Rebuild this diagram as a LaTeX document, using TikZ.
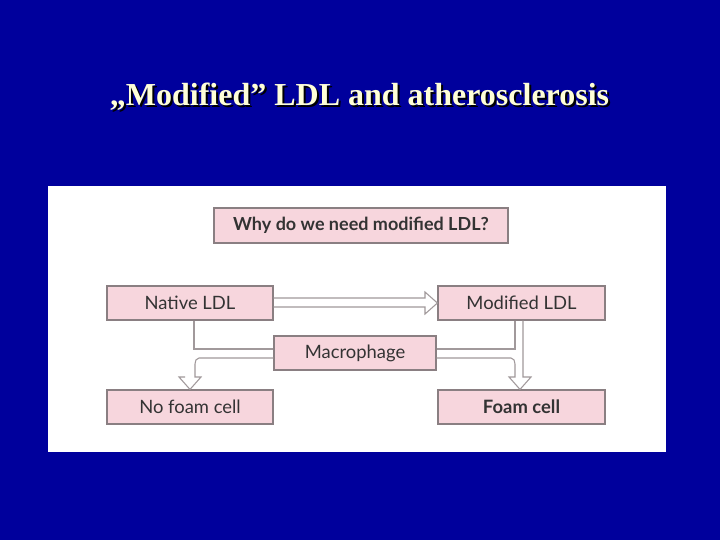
\documentclass[tikz,border=0pt]{standalone}
\usepackage{fontspec}
\setmainfont{Liberation Serif}
\newfontfamily\boxfont{Lato}
\definecolor{bg}{HTML}{00009C}
\definecolor{pinkf}{HTML}{F7D6DD}
\definecolor{edge}{HTML}{8A7F82}
\definecolor{title}{HTML}{FFFFD8}
\tikzset{
  pbox/.style={draw=edge, fill=pinkf, line width=0.9pt, inner sep=0pt, font=\boxfont\fontsize{13.8}{15}\selectfont, text=black!80},
  hollow/.style={draw=edge!80, line width=0.8pt, line join=miter}
}
\begin{document}
\begin{tikzpicture}[x=0.75pt,y=-0.75pt]
\useasboundingbox (0,0) rectangle (720,540);
\fill[bg] (0,0) rectangle (720,540);
\fill[white] (48,186) rectangle (666,452);
\node[font=\bfseries\fontsize{24}{28}\selectfont, text=black] at (361.5,98.5) {„Modified” LDL and atherosclerosis};
\node (t) [font=\bfseries\fontsize{24}{28}\selectfont, text=title] at (359.5,96.5) {„Modified” LDL and atherosclerosis};
\node (q) [pbox, minimum width=220.5pt, minimum height=26.25pt, font=\boxfont\bfseries\fontsize{13.5}{15}\selectfont] at (361,225.5) {Why do we need modified LDL?};
\node (n) [pbox, minimum width=124.5pt, minimum height=25.5pt] at (190,303) {Native LDL};
\node (m) [pbox, minimum width=125.25pt, minimum height=25.5pt] at (521.5,303) {Modified LDL};
\node (mp) [pbox, minimum width=121.5pt, minimum height=25.5pt] at (355,353) {Macrophage};
\node (nf) [pbox, minimum width=124.5pt, minimum height=25.5pt] at (190,407) {No foam cell};
\node (f) [pbox, minimum width=125.25pt, minimum height=25.5pt, font=\boxfont\bfseries\fontsize{13.8}{15}\selectfont] at (521.5,407) {Foam cell};
% horizontal hollow arrow
\draw[hollow] (n.east |- 0,298) -- (425,298) -- (425,292) -- (m.west) -- (425,314) -- (425,307) -- (n.east |- 0,307);
% left hollow arrow
\draw[hollow] (n.south -| 194,0) -- (194,349) -- (mp.west |- 0,349);
\draw[hollow] (mp.west |- 0,358) -- (199,358) to[out=180,in=90] (195,364) -- (195,377) -- (201,377) -- (nf.north) -- (179,377) -- (185,377);
% right hollow arrow
\draw[hollow] (m.south -| 515,0) -- (515,349) -- (mp.east |- 0,349);
\draw[hollow] (mp.east |- 0,358) -- (511,358) to[out=0,in=90] (515,364) -- (515,377) -- (509,377) -- (f.north -| 520,0) -- (531,377) -- (523,377) -- (m.south -| 523,0);
\end{tikzpicture}
\end{document}
